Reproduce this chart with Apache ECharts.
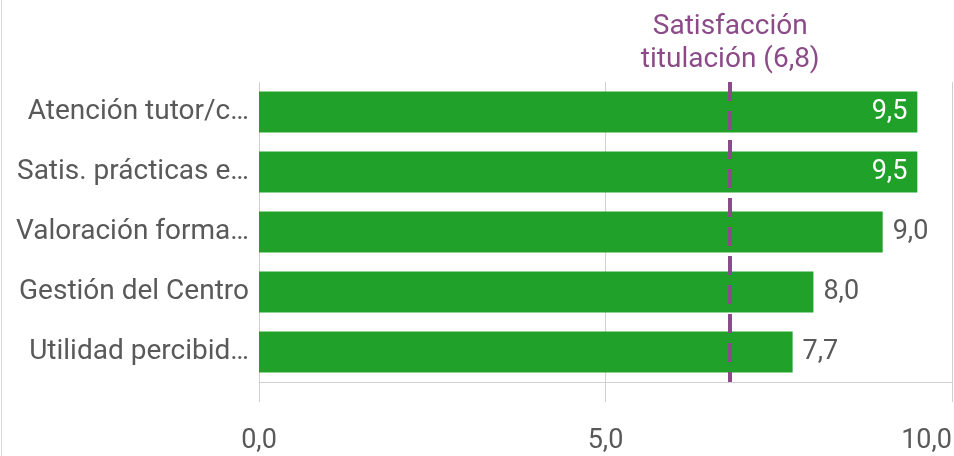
<!DOCTYPE html>
<html>
<head>
<meta charset="utf-8">
<script src="https://cdn.jsdelivr.net/npm/echarts@6/dist/echarts.min.js"></script>
<style>
html,body{margin:0;padding:0;background:#fff;}
#chart{width:954px;height:456px;}
</style>
</head>
<body>
<div id="chart"></div>
<script>
const categories = ["Atención tutor/c…", "Satis. prácticas e…", "Valoración forma…", "Gestión del Centro", "Utilidad percibid…"];
const values = [9.5, 9.5, 9.0, 8.0, 7.7];
const referenceValue = 6.8;
const referenceLabel = "Satisfacción\ntitulación (6,8)";
const xTicks = [0, 5, 10];

const fmt = v => v.toFixed(1).replace('.', ',');
const textFont = 'Roboto, "Noto Sans", sans-serif';

const chart = echarts.init(document.getElementById('chart'), null, {renderer: 'canvas'});
chart.setOption({
  animation: false,
  backgroundColor: '#ffffff',
  grid: {left: 259, right: 2, top: 82, bottom: 74, containLabel: false, outerBoundsMode: 'none'},
  xAxis: {
    type: 'value',
    min: xTicks[0],
    max: xTicks[xTicks.length - 1],
    interval: xTicks[1] - xTicks[0],
    axisLine: {show: true, lineStyle: {color: '#d0d0d0', width: 1}},
    axisTick: {show: true, length: 20, lineStyle: {color: '#d0d0d0', width: 1}},
    splitLine: {show: true, lineStyle: {color: '#d0d0d0', width: 1}},
    axisLabel: {
      margin: 46,
      fontFamily: textFont,
      fontSize: 27,
      color: '#595959',
      formatter: v => fmt(v),
      alignMaxLabel: 'right'
    }
  },
  yAxis: {
    type: 'category',
    inverse: true,
    data: categories,
    axisLine: {show: false},
    axisTick: {show: false},
    splitLine: {show: false},
    axisLabel: {margin: 10, fontFamily: textFont, fontSize: 28, color: '#595959'}
  },
  series: [{
    type: 'bar',
    barWidth: 41,
    itemStyle: {color: '#20a12a'},
    data: values.map(v => ({
      value: v,
      label: v >= 9.5
        ? {show: true, position: 'insideRight', distance: 10, color: '#ffffff'}
        : {show: true, position: 'right', distance: 10, color: '#595959'}
    })),
    label: {show: true, fontFamily: textFont, fontSize: 27, formatter: p => fmt(p.value)},
    markLine: {
      silent: true,
      symbol: 'none',
      animation: false,
      lineStyle: {color: '#8b4a88', width: 4, type: [19, 10], dashOffset: 0},
      label: {
        show: true,
        position: 'start',
        formatter: referenceLabel,
        fontFamily: textFont,
        fontSize: 28,
        lineHeight: 33,
        color: '#8b4a88',
        distance: 6
      },
      emphasis: {disabled: true},
      data: [{xAxis: referenceValue}]
    }
  }],
  graphic: [{
    type: 'line',
    shape: {x1: 1.5, y1: 0, x2: 1.5, y2: 456},
    style: {stroke: '#d9d9d9', lineWidth: 1}
  }]
});
</script>
</body>
</html>
